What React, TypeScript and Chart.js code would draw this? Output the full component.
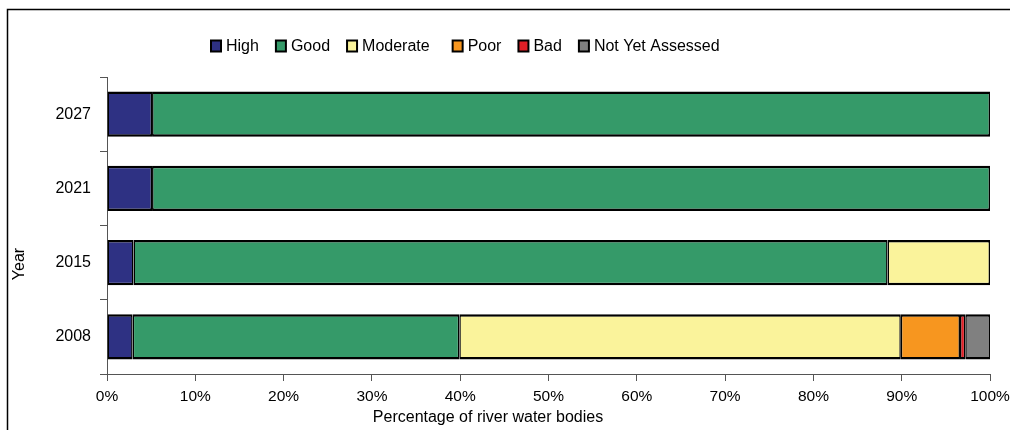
import React, { useEffect, useRef } from "react";
import { Chart, registerables } from "chart.js";

Chart.register(...registerables);

const categories = ["2027", "2021", "2015", "2008"];
const seriesNames = ["High", "Good", "Moderate", "Poor", "Bad", "Not Yet Assessed"];
const high = [5.1, 5.1, 3.0, 2.9];
const good = [94.9, 94.9, 85.4, 37.0];
const moderate = [null, null, 11.6, 50.0];
const poor = [null, null, null, 6.7];
const bad = [null, null, null, 0.6];
const notYetAssessed = [null, null, null, 2.8];
const seriesColors = ["#2E3183", "#359A69", "#FAF39B", "#F7961F", "#E21F26", "#808080"];
const xTickValues = [0, 10, 20, 30, 40, 50, 60, 70, 80, 90, 100];
const xTitle = "Percentage of river water bodies";
const yTitle = "Year";

const FONT = '"Liberation Sans", Arial, sans-serif';

const decorPlugin = {
  id: "decor",
  beforeDraw(chart: any) {
    const ctx = chart.ctx;
    ctx.save();
    ctx.fillStyle = "#fff";
    ctx.fillRect(0, 0, chart.width, chart.height);
    ctx.strokeStyle = "#000";
    ctx.lineWidth = 1.5;
    ctx.beginPath();
    ctx.moveTo(7.5, chart.height);
    ctx.lineTo(7.5, 9.5);
    ctx.lineTo(chart.width, 9.5);
    ctx.stroke();
    ctx.restore();
  },
  afterDraw(chart: any) {
    const ctx = chart.ctx;
    ctx.save();
    ctx.fillStyle = "#000";
    ctx.font = `16px ${FONT}`;
    ctx.textAlign = "center";
    ctx.textBaseline = "middle";
    ctx.fillText(xTitle, 488, 418);
    ctx.translate(20, 264);
    ctx.rotate(-Math.PI / 2);
    ctx.fillText(yTitle, 0, 0);
    ctx.restore();

    // legend
    ctx.save();
    ctx.font = `16px ${FONT}`;
    ctx.textAlign = "left";
    ctx.textBaseline = "middle";
    let x = 211;
    const cy = 46;
    chart.data.datasets.forEach((ds: any) => {
      ctx.fillStyle = ds.backgroundColor;
      ctx.fillRect(x, cy - 5.5, 10, 11);
      ctx.strokeStyle = "#000";
      ctx.lineWidth = 2;
      ctx.strokeRect(x, cy - 5.5, 10, 11);
      ctx.fillStyle = "#000";
      ctx.fillText(ds.label, x + 15, cy + 0.5);
      const gap = ds.label === "Moderate" ? 23 : 17;
      x += 15 + ctx.measureText(ds.label).width + gap;
    });
    ctx.restore();
  },
};

export default function App() {
  const ref = useRef<HTMLCanvasElement | null>(null);

  useEffect(() => {
    if (!ref.current) return;
    const values = [high, good, moderate, poor, bad, notYetAssessed];
    const chart = new Chart(ref.current, {
      type: "bar",
      data: {
        labels: categories,
        datasets: seriesNames.map((name, i) => ({
          label: name,
          data: values[i] as any,
          backgroundColor: seriesColors[i],
          borderColor: "#000",
          borderWidth: { top: 2.5, bottom: 2.5, left: 1.5, right: 1.5 },
          borderSkipped: false,
          inflateAmount: 0,
          barPercentage: 0.61,
          categoryPercentage: 1,
        })),
      },
      options: {
        indexAxis: "y",
        responsive: false,
        animation: false,
        layout: { padding: { top: 77, right: 0, left: 0, bottom: 0 } },
        plugins: {
          legend: { display: false },
          tooltip: { enabled: false },
        },
        scales: {
          x: {
            stacked: true,
            min: 0,
            max: 100,
            afterFit: (s: any) => {
              s.height = 56;
              s.paddingRight = 20;
              s.paddingLeft = 0;
            },
            afterBuildTicks: (s: any) => {
              s.ticks = xTickValues.map((v) => ({ value: v }));
            },
            ticks: {
              color: "#000",
              font: { family: FONT, size: 15.5 },
              padding: 6,
              callback: (v: any) => `${v}%`,
              maxRotation: 0,
            },
            grid: {
              drawOnChartArea: false,
              drawTicks: true,
              tickLength: 7,
              color: "#555",
            },
            border: { display: true, color: "#555", width: 1 },
          },
          y: {
            stacked: true,
            afterFit: (s: any) => {
              s.width = 107;
            },
            ticks: {
              color: "#000",
              font: { family: FONT, size: 16 },
              padding: 9,
            },
            grid: {
              drawOnChartArea: false,
              drawTicks: true,
              tickLength: 7,
              color: "#555",
              offset: true,
            },
            border: { display: true, color: "#555", width: 1 },
          },
        },
      },
      plugins: [decorPlugin],
    });
    return () => chart.destroy();
  }, []);

  return (
    <div style={{ position: "fixed", left: 0, top: 0, width: 1010, height: 430, background: "#fff" }}>
      <canvas ref={ref} width={1010} height={430} style={{ width: 1010, height: 430, display: "block" }} />
    </div>
  );
}
